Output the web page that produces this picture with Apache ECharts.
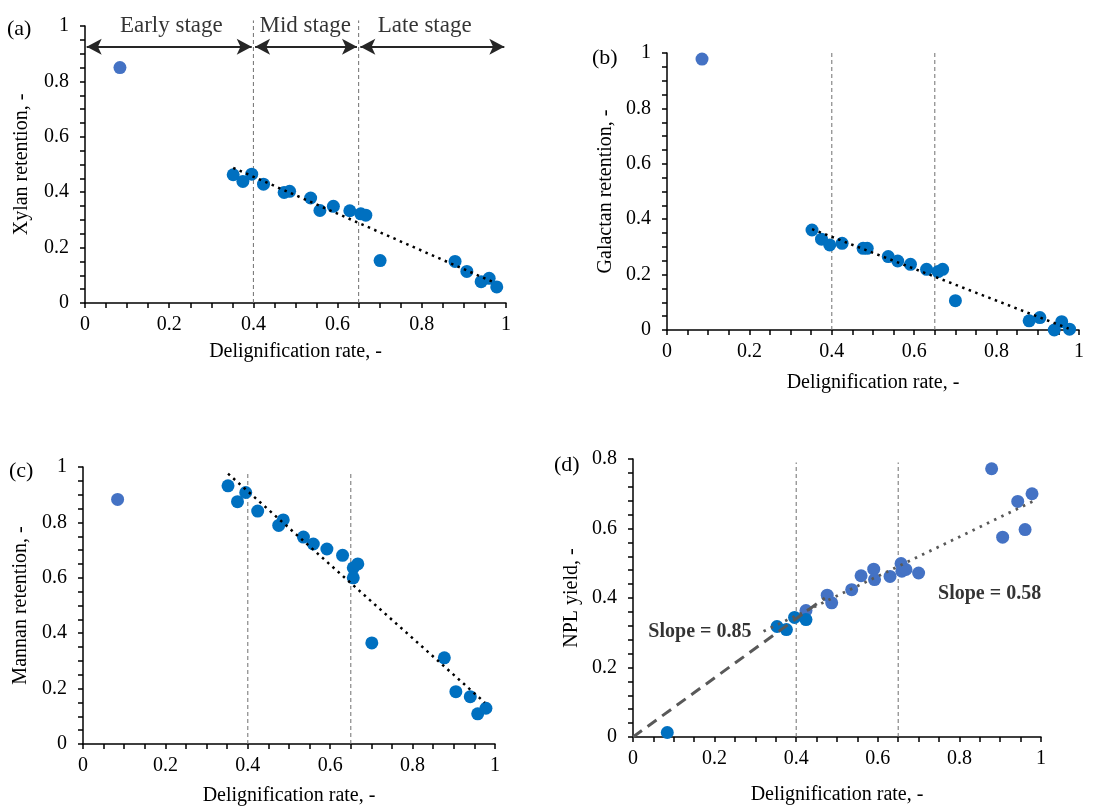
<!DOCTYPE html>
<html>
<head>
<meta charset="utf-8">
<script src="https://cdn.jsdelivr.net/npm/echarts@6/dist/echarts.min.js"></script>
<style>
html,body{margin:0;padding:0;background:#fff;}
#chart{width:1107px;height:807px;}
</style>
</head>
<body>
<div id="chart"></div>
<script>
// ---------- DATA ----------
const xXylan = [0.083,0.352,0.375,0.396,0.424,0.473,0.486,0.536,0.558,0.590,0.629,0.655,0.667,0.701,0.879,0.907,0.941,0.960,0.978];
const yXylan = [0.850,0.463,0.439,0.465,0.429,0.399,0.403,0.379,0.334,0.349,0.333,0.322,0.317,0.153,0.150,0.114,0.077,0.089,0.058];

const xGalactan = [0.085,0.352,0.375,0.395,0.425,0.476,0.486,0.537,0.560,0.591,0.630,0.658,0.669,0.700,0.879,0.905,0.940,0.958,0.977];
const yGalactan = [0.978,0.361,0.328,0.307,0.313,0.295,0.295,0.265,0.249,0.237,0.219,0.211,0.219,0.106,0.033,0.045,0.000,0.030,0.003];

const xMannan = [0.084,0.352,0.375,0.395,0.424,0.475,0.486,0.535,0.559,0.592,0.630,0.656,0.656,0.667,0.701,0.877,0.905,0.940,0.958,0.978];
const yMannan = [0.883,0.932,0.875,0.908,0.841,0.789,0.809,0.747,0.722,0.704,0.681,0.636,0.600,0.650,0.365,0.311,0.189,0.171,0.109,0.129];

// NPL yield: early-stage points and the rest
const xNplEarly = [0.084,0.353,0.376,0.396,0.424];
const yNplEarly = [0.013,0.318,0.309,0.344,0.338];
const xNpl = [0.424,0.476,0.487,0.536,0.559,0.590,0.592,0.630,0.657,0.659,0.669,0.700,0.879,0.906,0.943,0.961,0.978];
const yNpl = [0.364,0.408,0.386,0.424,0.464,0.483,0.453,0.462,0.499,0.477,0.482,0.472,0.772,0.575,0.678,0.597,0.700];

// trend lines (endpoints)
const trendXylan = [[0.352,0.488],[0.975,0.072]];
const trendGalactan = [[0.352,0.364],[0.975,0.005]];
const trendMannan = [[0.352,0.976],[0.975,0.150]];
const trendNplLate = [[0.320,0.304],[0.980,0.678]];
const trendNplEarly = [[0.000,0.000],[0.470,0.400]];

const stageBounds = [0.4, 0.65];
const stageNames = ['Early stage','Mid stage','Late stage'];
const stageRanges = [[0,0.4],[0.4,0.65],[0.65,1]];
const slopeLabels = ['Slope = 0.85','Slope = 0.58'];

// ---------- STYLE ----------
const FONT = 'Liberation Serif';
const C1 = '#0070C0';
const C2 = '#4472C4';
const zip = (xs, ys) => xs.map((x,i)=>[x, ys[i]]);

const grids = [
  {left:85, top:26, width:421, height:277},
  {left:667, top:53, width:412, height:277},
  {left:83, top:467, width:412, height:279},
  {left:633, top:459, width:408, height:278}
];

function xAx(gi, gap){
  return {
    gridIndex:gi, type:'value', min:0, max:1, interval:0.2,
    axisLine:{show:true, onZero:false, lineStyle:{color:'#000', width:1.5}},
    axisTick:{show:true, length:5, lineStyle:{color:'#000', width:1.5}},
    minorTick:{show:true, splitNumber:4, length:5, lineStyle:{color:'#000', width:1.5}},
    splitLine:{show:false}, minorSplitLine:{show:false},
    axisLabel:{fontFamily:FONT, fontSize:20, color:'#000', margin:12, formatter:v=>String(+v.toFixed(2))},
    name:'Delignification rate, -', nameLocation:'middle', nameGap:gap,
    nameTextStyle:{fontFamily:FONT, fontSize:20, color:'#000'}
  };
}
function yAx(gi, name, max, split, gap){
  return {
    gridIndex:gi, type:'value', min:0, max:max, interval:0.2,
    axisLine:{show:true, onZero:false, lineStyle:{color:'#000', width:1.5}},
    axisTick:{show:true, length:5, lineStyle:{color:'#000', width:1.5}},
    minorTick:{show:true, splitNumber:split, length:5, lineStyle:{color:'#000', width:1.5}},
    splitLine:{show:false}, minorSplitLine:{show:false},
    axisLabel:{fontFamily:FONT, fontSize:20, color:'#000', margin:16, formatter:v=>String(+v.toFixed(2))},
    name:name, nameLocation:'middle', nameGap:gap,
    nameTextStyle:{fontFamily:FONT, fontSize:20, color:'#000'}
  };
}

function scatter(gi, data, color){
  return {type:'scatter', xAxisIndex:gi, yAxisIndex:gi, data:data, symbolSize:13,
    itemStyle:{color:color, opacity:1}, z:3, silent:true};
}
function trend(gi, data, color, dash, width){
  return {type:'line', xAxisIndex:gi, yAxisIndex:gi, data:data, symbol:'none', z:5, silent:true,
    lineStyle:{color:color, type:dash, width:width, cap:'butt'}};
}
function vlines(gi, top){
  return stageBounds.map(b => ({type:'line', xAxisIndex:gi, yAxisIndex:gi, clip:false,
    data:[[b,0],[b,top]], symbol:'none', z:2, silent:true,
    lineStyle:{color:'#6f6f6f', type:[4,3], width:1}}));
}

const series = [];
// (a)
series.push(scatter(0, zip(xXylan.slice(1), yXylan.slice(1)), C1));
series.push(scatter(0, [[xXylan[0], yXylan[0]]], C2));
series.push(trend(0, trendXylan, '#000', [2.5,4.5], 2.5));
series.push(...vlines(0, 1.02));
// stage arrows
series.push({type:'line', xAxisIndex:0, yAxisIndex:0, data:[], symbol:'none', silent:true,
  markLine:{silent:true, symbol:['arrow','arrow'], symbolSize:[12,15], animation:false,
    label:{show:false}, lineStyle:{color:'#262626', width:2, type:'solid'},
    data: stageRanges.map(r => [{coord:[r[0]+0.004, 0.925]}, {coord:[r[1]-0.004, 0.925]}])
  }});
// stage labels
const stageLabelX = [0.205, 0.523, 0.807];
series.push({type:'scatter', xAxisIndex:0, yAxisIndex:0, symbolSize:0, silent:true, clip:false,
  data: stageNames.map((n,i)=>({name:n, value:[stageLabelX[i], 1.0]})),
  label:{show:true, position:'inside', formatter:p=>p.name, fontFamily:FONT, fontSize:23, color:'#000'}});
// (b)
series.push(scatter(1, zip(xGalactan.slice(1), yGalactan.slice(1)), C1));
series.push(scatter(1, [[xGalactan[0], yGalactan[0]]], C2));
series.push(trend(1, trendGalactan, '#000', [2.5,4.5], 2.5));
series.push(...vlines(1, 1.0));
// (c)
series.push(scatter(2, zip(xMannan.slice(1), yMannan.slice(1)), C1));
series.push(scatter(2, [[xMannan[0], yMannan[0]]], C2));
series.push(trend(2, trendMannan, '#000', [2.5,4.5], 2.5));
series.push(...vlines(2, 0.98));
// (d)
series.push(scatter(3, zip(xNpl, yNpl), C2));
series.push(scatter(3, zip(xNplEarly, yNplEarly), C1));
series.push(trend(3, trendNplLate, '#595959', [2.5,5.5], 2.8));
series.push(trend(3, trendNplEarly, '#595959', [11,7], 3));
series.push(...vlines(3, 0.79));
series.push({type:'scatter', xAxisIndex:3, yAxisIndex:3, symbolSize:0, silent:true, clip:false,
  data:[{name:slopeLabels[0], value:[0.164,0.303]},{name:slopeLabels[1], value:[0.874,0.412]}],
  label:{show:true, position:'inside', formatter:p=>p.name, fontFamily:FONT, fontSize:20, fontWeight:'bold', color:'#000'}});

const panelText = (t, x, y) => ({type:'text', left:x, top:y, style:{text:t, font:'22px "Liberation Serif"', fill:'#000'}});

const option = {
  animation:false,
  backgroundColor:'#fff',
  grid:grids,
  xAxis:[xAx(0,39), xAx(1,43), xAx(2,42), xAx(3,48)],
  yAxis:[
    yAx(0,'Xylan retention, -',1,4,53),
    yAx(1,'Galactan retention, -',1,4,51),
    yAx(2,'Mannan retention, -',1,4,52),
    yAx(3,'NPL yield, -',0.8,5,51)
  ],
  series:series,
  graphic:[
    panelText('(a)', 7, 18),
    panelText('(b)', 592, 47),
    panelText('(c)', 9, 460),
    panelText('(d)', 554, 454)
  ]
};
const chart = echarts.init(document.getElementById('chart'));
chart.setOption(option);
</script>
</body>
</html>
